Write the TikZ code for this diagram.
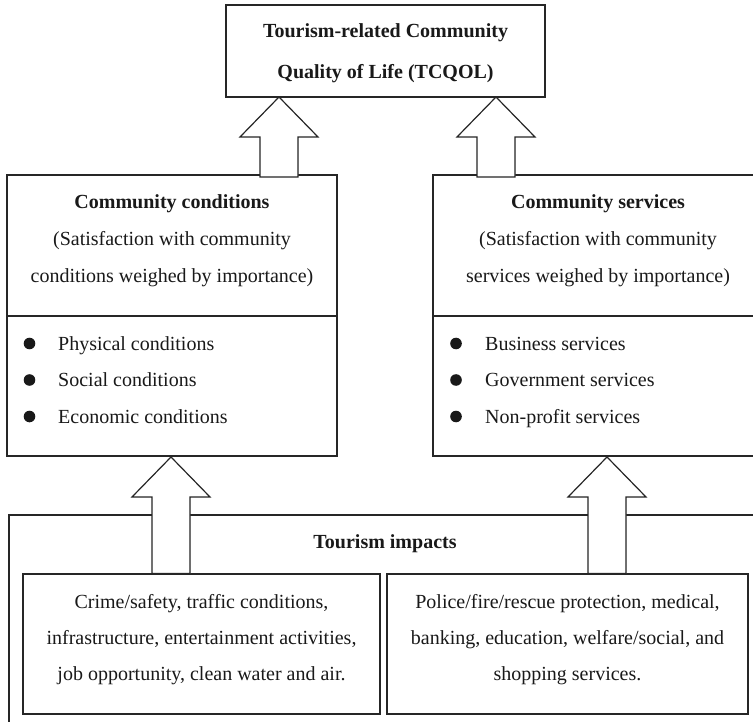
\documentclass[tikz,border=0pt]{standalone}
\usepackage{fontspec}
\setmainfont{Liberation Serif}
\usetikzlibrary{calc}
\newcommand\blockarrowpath[2]{%
  \fill[black!30,shift={(1.4,1.6)}] (#1) -- ++(39,40) -- ++(-20,0) |- ($(#1 |- #2)+(-19,0)$) |- ($(#1)+(-39,40)$) -- cycle;
  \draw[blockarrow] (#1) -- ++(39,40) -- ++(-20,0) |- ($(#1 |- #2)+(-19,0)$) |- ($(#1)+(-39,40)$) -- cycle;}
\begin{document}
\begin{tikzpicture}[x=1pt,y=-1pt,
  box/.style={draw=black!85,line width=1.2pt,fill=white,inner sep=0pt,outer sep=0pt},
  divider/.style={draw=black!85,line width=1.9pt},
  blockarrow/.style={draw=black!85,line width=1.2pt,fill=white,line join=miter},
  txt/.style={anchor=base,inner sep=0pt,font=\fontsize{20}{24}\selectfont,text=black!90},
  btxt/.style={txt,font=\fontsize{20}{24}\selectfont\bfseries},
  ltxt/.style={txt,anchor=base west},
  bullet/.style={fill=black!90}]
\clip (0,0) rectangle (753,722);
\fill[white] (0,0) rectangle (753,722);
% boxes
\node[box,minimum width=319pt,minimum height=92pt] (tcqol) at (385.5,51) {};
\node[box,minimum width=330pt,minimum height=281pt] (cc) at (172,315.5) {};
\node[box,minimum width=330pt,minimum height=281pt] (cs) at (598,315.5) {};
\node[box,minimum width=752pt,minimum height=215pt] (ti) at (385,622.5) {};
\node[box,minimum width=357pt,minimum height=140pt] (il) at (201.5,644) {};
\node[box,minimum width=361pt,minimum height=140pt] (ir) at (567.5,644) {};
\draw[divider] ($(cc.north west)+(0,141)$) -- ($(cc.north east)+(0,141)$);
\draw[divider] ($(cs.north west)+(0,141)$) -- ($(cs.north east)+(0,141)$);
% texts
\node[btxt] (t1) at (385.5,38) {Tourism-related Community};
\node[btxt] (t2) at (385.5,78.5) {Quality of Life (TCQOL)};
\node[btxt] (cc1) at (172,209) {Community conditions};
\node[txt] (cc2) at (172,246) {(Satisfaction with community};
\node[txt] (cc3) at (172,282.5) {conditions weighed by importance)};
\node[btxt] (cs1) at (598,209) {Community services};
\node[txt] (cs2) at (598,246) {(Satisfaction with community};
\node[txt] (cs3) at (598,282.5) {services weighed by importance)};
\foreach \y/\lab/\t in {350/ccb1/Physical conditions,386.5/ccb2/Social conditions,423/ccb3/Economic conditions}{
  \fill[bullet] (29.5,\y-6.5) circle (5.8pt);
  \node[ltxt] (\lab) at (58,\y) {\t};}
\foreach \y/\lab/\t in {350/csb1/Business services,386.5/csb2/Government services,423/csb3/Non-profit services}{
  \fill[bullet] (456,\y-6.5) circle (5.8pt);
  \node[ltxt] (\lab) at (485,\y) {\t};}
\node[btxt] (ti1) at (385,548) {Tourism impacts};
\node[txt] (il1) at (201.5,608) {Crime/safety, traffic conditions,};
\node[txt] (il2) at (201.5,644) {infrastructure, entertainment activities,};
\node[txt] (il3) at (201.5,680) {job opportunity, clean water and air.};
\node[txt] (ir1) at (567.5,608) {Police/fire/rescue protection, medical,};
\node[txt] (ir2) at (567.5,644) {banking, education, welfare/social, and};
\node[txt] (ir3) at (567.5,680) {shopping services.};
% arrows
\coordinate (a1) at ($(tcqol.south west)+(53,0)$);
\coordinate (a2) at ($(tcqol.south east)+(-49,0)$);
\coordinate (a1e) at ($(cc.north)+(0,2)$);
\coordinate (a2e) at ($(cs.north)+(0,2)$);
\coordinate (a3) at ($(cc.south)+(-1,1)$);
\coordinate (a4) at ($(cs.south)+(9,1)$);
\coordinate (a3e) at ($(il.north)+(0,-0.5)$);
\coordinate (a4e) at ($(ir.north)+(0,-0.5)$);
\blockarrowpath{a1}{a1e}
\blockarrowpath{a2}{a2e}
\blockarrowpath{a3}{a3e}
\blockarrowpath{a4}{a4e}
\end{tikzpicture}
\end{document}
